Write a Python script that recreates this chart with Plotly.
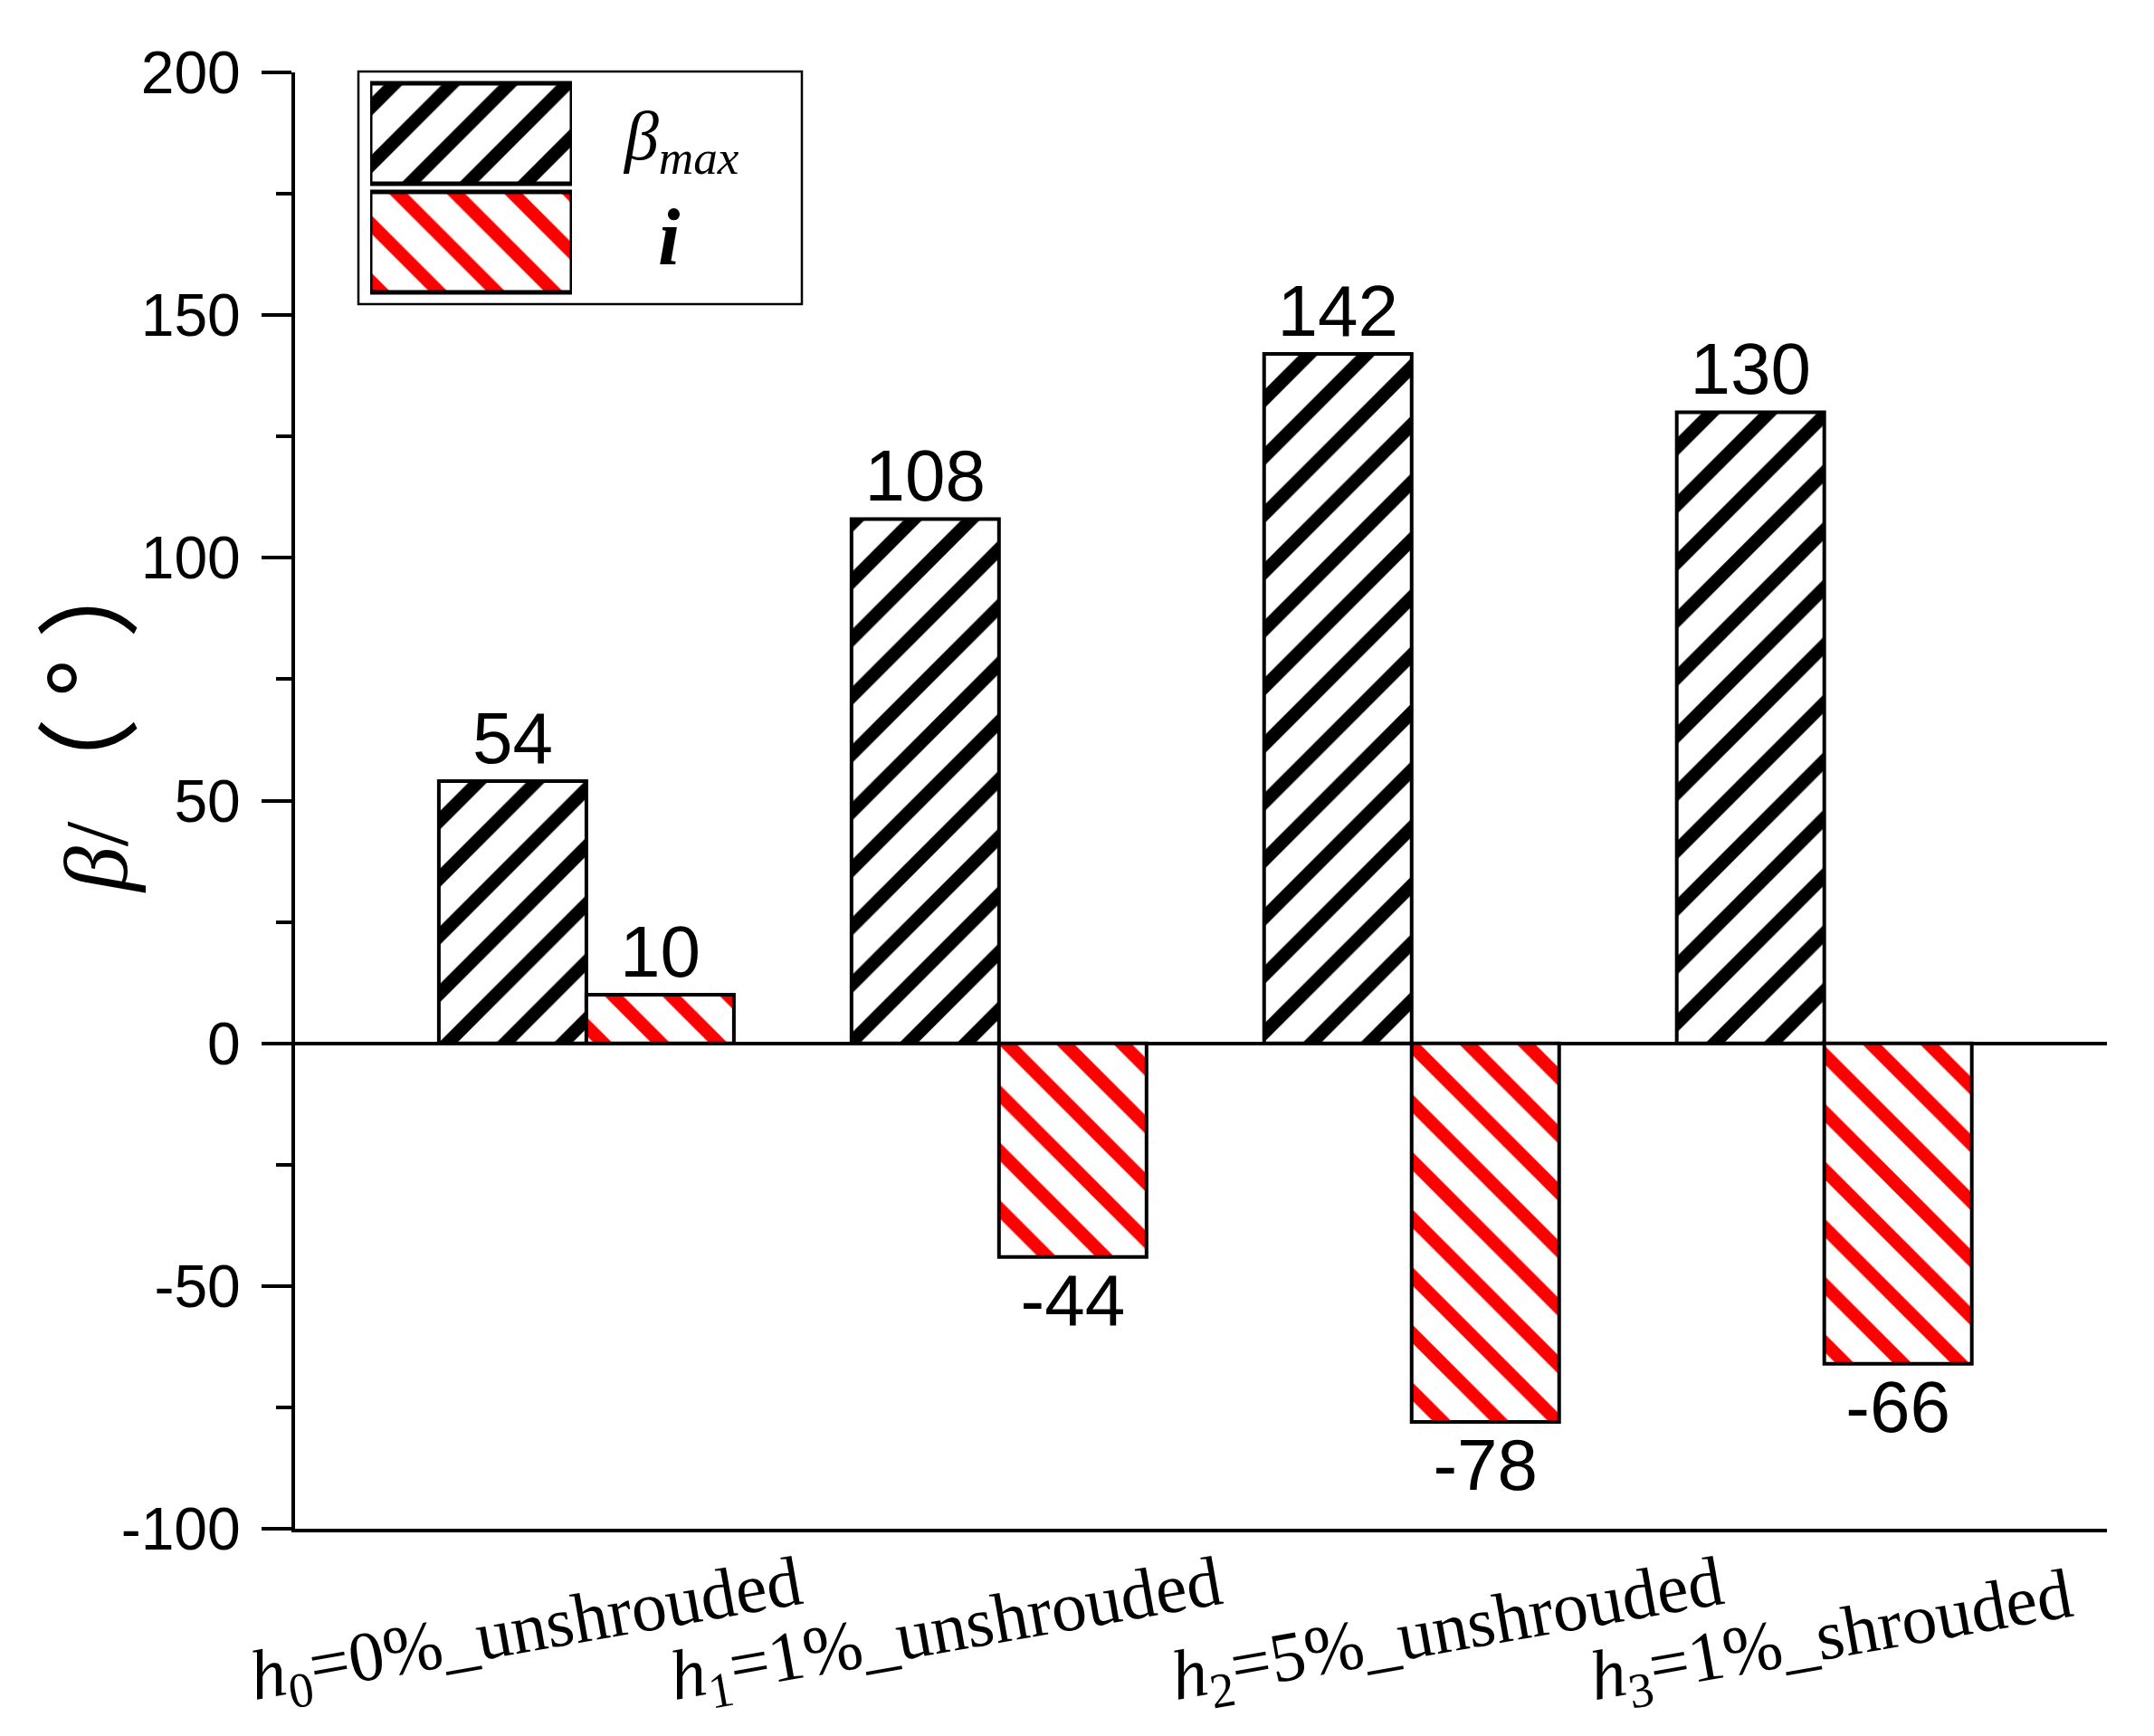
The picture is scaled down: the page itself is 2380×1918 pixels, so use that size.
import plotly.graph_objects as go

# data
categories = ['h0', 'h1', 'h2', 'h3']
cat_labels = ['<i>h</i><sub>0</sub>=0%_unshrouded',
              '<i>h</i><sub>1</sub>=1%_unshrouded',
              '<i>h</i><sub>2</sub>=5%_unshrouded',
              '<i>h</i><sub>3</sub>=1%_shrouded']
beta_max = [54, 108, 142, 130]
incidence = [10, -44, -78, -66]

y_ticks = [-100, -50, 0, 50, 100, 150, 200]
y_ticktext = ['-100', '-50', '0', '50', '100', '150', '200']

legend_labels = ['<i>β</i><sub><i>max</i></sub>', '<b><i>i</i></b>']
legend_colors = ['black', 'red']
legend_shapes = ['/', '\\']

# small horizontal nudges of the category labels, as placed in the original
label_shift = [-66, -58, 40, 8]

W, H = 2380, 1918
L, R, T, B = 318, 60, 72, 237
pw, ph = W - L - R, H - T - B


def px_x(p):
    return (p - L) / pw


def px_y(p):
    return (H - B - p) / ph


SOLID = 0.68

fig = go.Figure()

fig.add_trace(go.Bar(
    x=categories, y=beta_max, name='βmax',
    marker=dict(color='black', line=dict(color='black', width=4),
                pattern=dict(shape='/', fgcolor='white', bgcolor='black',
                             size=45, solidity=SOLID)),
    text=[str(v) for v in beta_max], textposition='outside',
    textfont=dict(family='Liberation Sans', size=80, color='black'),
    constraintext='none', cliponaxis=False, showlegend=False))

fig.add_trace(go.Bar(
    x=categories, y=incidence, name='i',
    marker=dict(color='red', line=dict(color='black', width=4),
                pattern=dict(shape='\\', fgcolor='white', bgcolor='red',
                             size=45, solidity=SOLID)),
    text=[str(v) for v in incidence], textposition='outside',
    textfont=dict(family='Liberation Sans', size=80, color='black'),
    constraintext='none', cliponaxis=False, showlegend=False))

# legend swatches drawn on a small inset axis so they keep the hatching
for k, (col, shp) in enumerate(zip(legend_colors, legend_shapes)):
    fig.add_trace(go.Bar(
        y=[k], x=[1], orientation='h', width=0.925, offset=-0.4625,
        xaxis='x2', yaxis='y2', hoverinfo='skip', showlegend=False,
        marker=dict(color=col, line=dict(color='black', width=5),
                    pattern=dict(shape=shp, fgcolor='white', bgcolor=col,
                                 size=45, solidity=SOLID))))

annotations = []
for c, lab, dx in zip(categories, cat_labels, label_shift):
    annotations.append(dict(
        x=c, xref='x', y=px_y(1900), yref='paper', text=lab, showarrow=False,
        textangle=-10, xanchor='center', yanchor='bottom', xshift=dx,
        font=dict(family='Liberation Serif', size=78, color='black')))

annotations.append(dict(
    x=px_x(82), y=px_y(770), xref='paper', yref='paper', showarrow=False,
    text='<i>β</i>/<span style="font-family:Noto Sans CJK SC;font-size:115px;'
         'letter-spacing:22px">（°）</span>',
    textangle=-90, xanchor='center', yanchor='middle',
    font=dict(family='Liberation Serif', size=100, color='black')))

annotations.append(dict(
    x=px_x(744), y=px_y(148), xref='paper', yref='paper', showarrow=False,
    text=legend_labels[0], xanchor='center', yanchor='middle',
    font=dict(family='Liberation Serif', size=76, color='black')))
annotations.append(dict(
    x=px_x(731), y=px_y(255), xref='paper', yref='paper', showarrow=False,
    text=legend_labels[1], xanchor='center', yanchor='middle',
    font=dict(family='Liberation Serif', size=88, color='black')))

fig.update_layout(
    width=W, height=H,
    template='none',
    paper_bgcolor='white', plot_bgcolor='white',
    margin=dict(l=L, r=R, t=T, b=B, pad=0),
    barmode='group', bargap=0.285, bargroupgap=0,
    annotations=annotations,
    shapes=[dict(type='rect', xref='paper', yref='paper',
                 x0=px_x(388), x1=px_x(878), y0=px_y(328), y1=px_y(71),
                 line=dict(color='black', width=2.5), fillcolor='rgba(0,0,0,0)')],
    xaxis=dict(range=[-0.706, 3.685], showline=True, linecolor='black',
               linewidth=4, ticks='', showticklabels=False, showgrid=False,
               zeroline=False, automargin=False),
    yaxis=dict(range=[-100, 200], tickvals=y_ticks, ticktext=y_ticktext,
               ticks='outside', ticklen=33, tickwidth=4, tickcolor='black',
               ticklabelstandoff=10,
               tickfont=dict(family='Liberation Sans', size=66, color='black'),
               showline=True, linecolor='black', linewidth=4, showgrid=False,
               zeroline=True, zerolinecolor='black', zerolinewidth=4,
               automargin=False,
               minor=dict(dtick=25, ticks='outside', ticklen=17, tickwidth=4,
                          tickcolor='black', showgrid=False)),
    xaxis2=dict(domain=[px_x(401), px_x(624)], range=[0, 1], anchor='y2',
                visible=False, fixedrange=True),
    yaxis2=dict(domain=[px_y(319.5), px_y(79.5)], range=[1.5, -0.5],
                anchor='x2', visible=False, fixedrange=True),
)

fig.write_html("out.html")
